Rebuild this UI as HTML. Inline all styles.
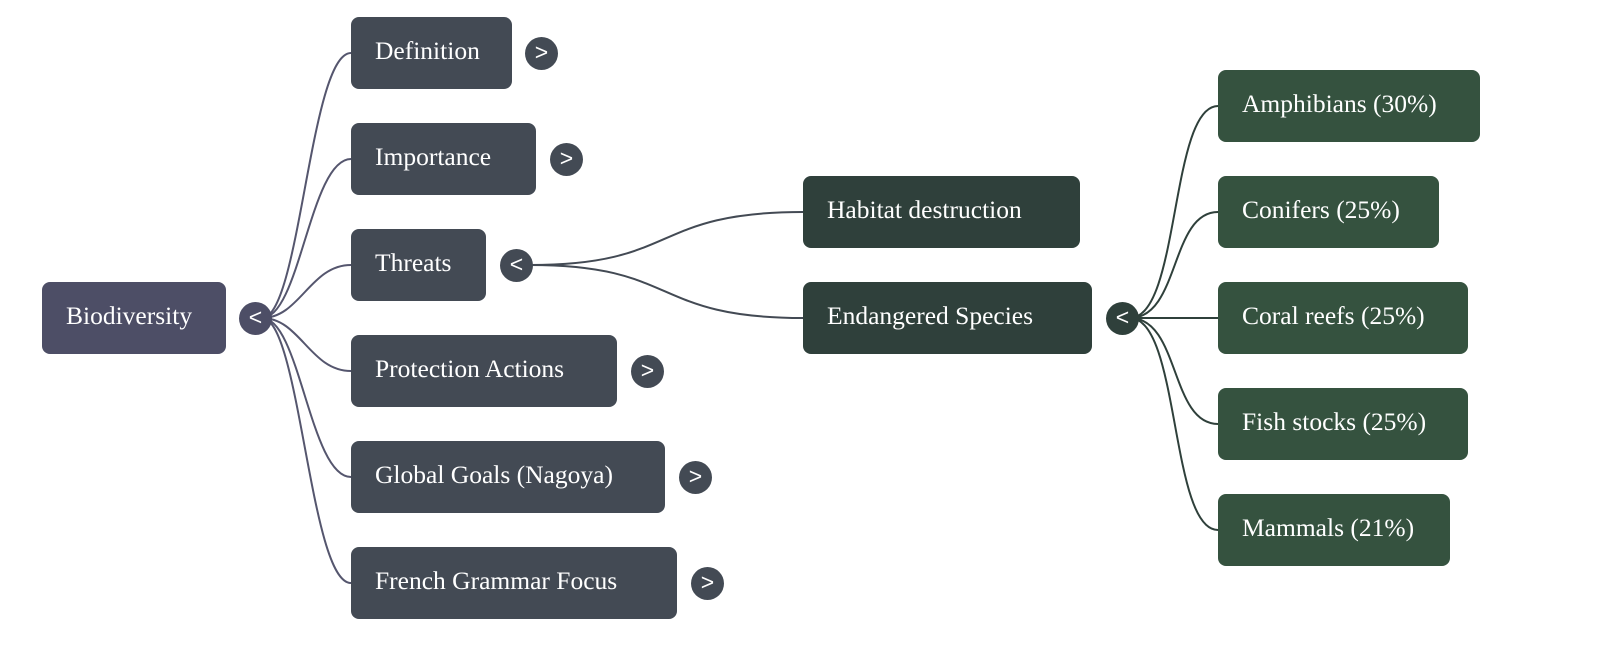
<!DOCTYPE html>
<html><head><meta charset="utf-8"><style>
body{margin:0;width:1600px;height:649px;background:#fff;position:relative;overflow:hidden;font-family:"Liberation Serif",serif}
.n{position:absolute;height:72px;border-radius:8px;color:#fff;font-size:25.5px;line-height:68px;padding-left:24px;box-sizing:border-box;white-space:nowrap}
.c{position:absolute;width:33px;height:33px;border-radius:50%;color:#fff;font-family:"Liberation Sans",sans-serif;font-size:23px;line-height:31px;text-align:center}
svg{position:absolute;left:0;top:0}
</style></head><body>
<svg width="1600" height="649" fill="none" stroke-width="2">
<g stroke="#55566e">
<path d="M262 318 C300 318 310 53 351 53"/>
<path d="M262 318 C300 318 310 159 351 159"/>
<path d="M262 318 C300 318 310 265 351 265"/>
<path d="M262 318 C300 318 310 371 351 371"/>
<path d="M262 318 C300 318 310 477 351 477"/>
<path d="M262 318 C300 318 310 583 351 583"/>
</g>
<g stroke="#434a54">
<path d="M530 265 C680 265 650 212 803 212"/>
<path d="M530 265 C680 265 650 318 803 318"/>
</g>
<g stroke="#2f403b">
<path d="M1130 318 C1180 318 1170 106 1218 106"/>
<path d="M1130 318 C1180 318 1170 212 1218 212"/>
<path d="M1130 318 L1218 318"/>
<path d="M1130 318 C1180 318 1170 424 1218 424"/>
<path d="M1130 318 C1180 318 1170 530 1218 530"/>
</g>
</svg>
<div class="n" style="left:42px;top:282px;width:184px;background:#4d4e66">Biodiversity</div>
<div class="c" style="left:239px;top:302px;background:#4d4e66">&lt;</div>

<div class="n" style="left:351px;top:17px;width:161px;background:#434a54">Definition</div>
<div class="c" style="left:525px;top:37px;background:#434a54">&gt;</div>
<div class="n" style="left:351px;top:123px;width:185px;background:#434a54">Importance</div>
<div class="c" style="left:550px;top:143px;background:#434a54">&gt;</div>
<div class="n" style="left:351px;top:229px;width:135px;background:#434a54">Threats</div>
<div class="c" style="left:500px;top:249px;background:#434a54">&lt;</div>
<div class="n" style="left:351px;top:335px;width:266px;background:#434a54">Protection Actions</div>
<div class="c" style="left:631px;top:355px;background:#434a54">&gt;</div>
<div class="n" style="left:351px;top:441px;width:314px;background:#434a54">Global Goals (Nagoya)</div>
<div class="c" style="left:679px;top:461px;background:#434a54">&gt;</div>
<div class="n" style="left:351px;top:547px;width:326px;background:#434a54">French Grammar Focus</div>
<div class="c" style="left:691px;top:567px;background:#434a54">&gt;</div>

<div class="n" style="left:803px;top:176px;width:277px;background:#2f403b">Habitat destruction</div>
<div class="n" style="left:803px;top:282px;width:289px;background:#2f403b">Endangered Species</div>
<div class="c" style="left:1106px;top:302px;background:#2f403b">&lt;</div>

<div class="n" style="left:1218px;top:70px;width:262px;background:#35523f">Amphibians (30%)</div>
<div class="n" style="left:1218px;top:176px;width:221px;background:#35523f">Conifers (25%)</div>
<div class="n" style="left:1218px;top:282px;width:250px;background:#35523f">Coral reefs (25%)</div>
<div class="n" style="left:1218px;top:388px;width:250px;background:#35523f">Fish stocks (25%)</div>
<div class="n" style="left:1218px;top:494px;width:232px;background:#35523f">Mammals (21%)</div>
</body></html>
